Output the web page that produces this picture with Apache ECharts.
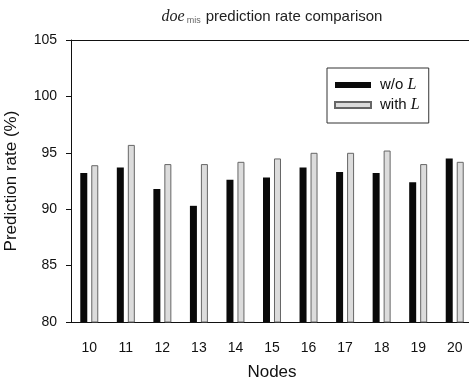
<!DOCTYPE html>
<html><head><meta charset="utf-8">
<script src="https://cdn.jsdelivr.net/npm/echarts@6/dist/echarts.min.js"></script>
<style>html,body{margin:0;padding:0;background:#fff}#c{width:469px;height:383px}</style>
</head><body><div id="c"></div>
<script>
const nodes = ['10','11','12','13','14','15','16','17','18','19','20'];
const withoutL = [93.2, 93.7, 91.8, 90.3, 92.6, 92.8, 93.7, 93.3, 93.2, 92.4, 94.5];
const withL = [93.9, 95.7, 94.0, 94.0, 94.2, 94.5, 95.0, 95.0, 95.2, 94.0, 94.2];
const yTicks = [80, 85, 90, 95, 100, 105];

const chart = echarts.init(document.getElementById('c'));
const F = 'Liberation Sans, Arial, sans-serif';
chart.setOption({
  animation: false,
  backgroundColor: '#fff',
  title: {
    text: '{d|doe}{s|mis}{t|prediction rate comparison}',
    left: 267, top: 4, textAlign: 'center',
    textStyle: {
      fontWeight: 'normal',
      rich: {
        d: {fontFamily: 'Liberation Serif, serif', fontStyle: 'italic', fontWeight: 'normal', fontSize: 16, color: '#222'},
        s: {fontFamily: F, fontSize: 9, fontWeight: 'normal', color: '#666', verticalAlign: 'bottom', padding: [6, 5, 0, 2]},
        t: {fontFamily: F, fontSize: 15, fontWeight: 'normal', color: '#222'}
      }
    }
  },
  legend: {
    orient: 'vertical', left: 327, top: 68,
    padding: [9, 9, 10, 7],
    itemWidth: 36, itemHeight: 6, itemGap: 4,
    icon: 'rect',
    borderColor: '#333', borderWidth: 1,
    data: ['w/o L', 'with L'],
    formatter: n => n === 'w/o L' ? '{p|}{a|w/o }{i|L}' : '{p|}{a|with }{i|L}',
    textStyle: {
      lineHeight: 15,
      rich: {
        p: {width: 4},
        a: {fontFamily: F, fontSize: 15, color: '#111', lineHeight: 15},
        i: {fontFamily: 'Liberation Serif, serif', fontStyle: 'italic', fontSize: 16, color: '#111', lineHeight: 15}
      }
    }
  },
  grid: {left: 71, right: -4, top: 40, bottom: 61, outerBoundsMode: 'none', containLabel: false},
  xAxis: [{
    type: 'category', data: nodes,
    name: 'Nodes', nameLocation: 'middle', nameGap: 42,
    nameTextStyle: {fontFamily: F, fontSize: 17, color: '#111'},
    axisLine: {lineStyle: {color: '#111', width: 1}},
    axisTick: {alignWithLabel: true, length: 5, lineStyle: {color: '#111'}},
    axisLabel: {fontFamily: F, fontSize: 14, color: '#111', margin: 19}
  }, {
    type: 'category', data: nodes, position: 'top',
    axisLine: {show: true, lineStyle: {color: '#111', width: 1}},
    axisTick: {show: false}, axisLabel: {show: false}
  }],
  yAxis: {
    type: 'value', min: 80, max: 105, interval: 5,
    name: 'Prediction rate (%)', nameLocation: 'middle', nameGap: 51,
    nameTextStyle: {fontFamily: F, fontSize: 17, color: '#111'},
    axisLine: {show: true, lineStyle: {color: '#111', width: 1}},
    axisTick: {show: true, length: 5, lineStyle: {color: '#111'}},
    axisLabel: {fontFamily: F, fontSize: 14, color: '#111', margin: 14,
      formatter: v => yTicks.includes(v) ? String(v) : ''},
    splitLine: {show: false}
  },
  series: [{
    name: 'w/o L', type: 'bar', data: withoutL,
    barWidth: 7, barGap: '57%',
    itemStyle: {color: '#0a0a0a'}
  }, {
    name: 'with L', type: 'bar', data: withL,
    barWidth: 7,
    itemStyle: {color: '#dcdcdc', borderColor: '#666', borderWidth: 1}
  }]
});
</script></body></html>
